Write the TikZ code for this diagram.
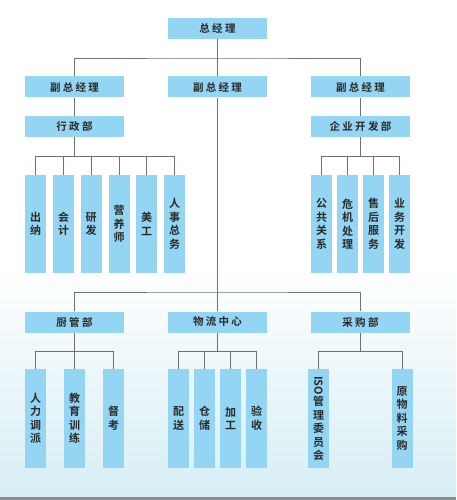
\documentclass[tikz,border=0pt]{standalone}
\usepackage{fontspec}
\newfontfamily\cjk{Noto Sans CJK SC}[BoldFont={Noto Sans CJK SC Bold},LetterSpace=22]
\newfontfamily\cjkv{Noto Sans CJK SC}[BoldFont={Noto Sans CJK SC Bold}]
\usepackage{tikz}
\usetikzlibrary{positioning}
\definecolor{boxblue}{HTML}{93D5F2}
\definecolor{linegray}{HTML}{707070}
\definecolor{textgray}{HTML}{2A2A2A}
\definecolor{bgblue}{HTML}{D8EEF5}

\begin{document}
\begin{tikzpicture}[
    x=1pt,y=-1pt,
    box/.style={fill=boxblue,minimum width=99pt,minimum height=21pt,inner sep=0pt,
      font=\cjk\bfseries\fontsize{10.5}{12}\selectfont,text=textgray},
    vbox/.style={fill=boxblue,minimum width=21pt,minimum height=98pt,inner sep=0pt,
      text width=13pt,align=center,font=\cjkv\bfseries\fontsize{11}{13.5}\selectfont,text=textgray},
    link/.style={draw=linegray,line width=0.9pt},
  ]
    \useasboundingbox (0,0) rectangle (456,500);
    % background, bluish towards the bottom, drawn in bands
    \fill[white] (0,0) rectangle (456,500);
    \foreach \i in {0,...,23}{
      \pgfmathsetmacro\mix{\i*100/23}
      \fill[bgblue!\mix!white] (0,260+\i*10) rectangle (456,271+\i*10);
    }
    \fill[black!45] (0,497) rectangle (456,500);

    \node[box] (gm) at (217.5,28.5) {总经理};
    \node[box] (vp1) at (74.5,87) {副总经理};
    \node[box] (vp2) at (217.5,87) {副总经理};
    \node[box] (vp3) at (360.5,87) {副总经理};
    \node[box] (admin) at (74.5,126.5) {行政部};
    \node[box] (biz) at (360.5,126.5) {企业开发部};

    \node[vbox] (cashier) at (35.5,224) {出\\纳};
    \node[vbox] (account) at (63.5,224) {会\\计};
    \node[vbox] (rd) at (91,224) {研\\发};
    \node[vbox] (diet) at (119,224) {营\\养\\师};
    \node[vbox] (art) at (146.5,224) {美\\工};
    \node[vbox] (hr) at (174.5,224) {人\\事\\总\\务};

    \node[vbox] (pr) at (321.5,224) {公\\共\\关\\系};
    \node[vbox] (crisis) at (347.5,224) {危\\机\\处\\理};
    \node[vbox] (service) at (373.5,224) {售\\后\\服\\务};
    \node[vbox] (sales) at (399.5,224) {业\\务\\开\\发};

    \node[box] (kitchen) at (74.5,322) {厨管部};
    \node[box] (logi) at (217.5,322) {物流中心};
    \node[box] (purch) at (360.5,322) {采购部};

    \node[vbox,minimum height=99pt] (staff) at (35.5,418.5) {人\\力\\调\\派};
    \node[vbox,minimum height=99pt] (train) at (74.5,418.5) {教\\育\\训\\练};
    \node[vbox,minimum height=99pt] (check) at (113.5,418.5) {督\\考};
    \node[vbox,minimum height=99pt] (deliver) at (178.5,418.5) {配\\送};
    \node[vbox,minimum height=99pt] (store) at (204.5,418.5) {仓\\储};
    \node[vbox,minimum height=99pt] (process) at (230.5,418.5) {加\\工};
    \node[vbox,minimum height=99pt] (inspect) at (256.5,418.5) {验\\收};
    \node[vbox,minimum height=99pt] (iso) at (318.5,418.5) {\rotatebox{-90}{ISO}\\管\\理\\委\\员\\会};
    \node[vbox,minimum height=99pt] (raw) at (402,418.5) {原\\物\\料\\采\\购};

    % branch points
    \coordinate (topbar) at (217.5,58);
    \coordinate (midbar) at (217.5,292);
    \coordinate (adminbar) at (74.5,156);
    \coordinate (bizbar) at (360.5,156);
    \coordinate (kitchenbar) at (74.5,351);
    \coordinate (logibar) at (217.5,351);
    \coordinate (purchbar) at (360.5,351);

    \draw[link] (gm.south) -- (vp2.north);
    \draw[link] (vp1.north) |- (topbar) -| (vp3.north);
    \draw[link] (vp1.south) -- (admin.north);
    \draw[link] (vp3.south) -- (biz.north);
    \draw[link] (vp2.south) -- (midbar);
    \draw[link] (kitchen.north) |- (midbar) -| (purch.north);
    \draw[link] (midbar) -- (logi.north);

    \draw[link] (admin.south) -- (adminbar);
    \draw[link] (adminbar) -| (cashier.north) (adminbar) -| (account.north)
      (adminbar) -| (rd.north) (adminbar) -| (diet.north)
      (adminbar) -| (art.north) (adminbar) -| (hr.north);
    \draw[link] (biz.south) -- (bizbar);
    \draw[link] (bizbar) -| (pr.north) (bizbar) -| (crisis.north)
      (bizbar) -| (service.north) (bizbar) -| (sales.north);

    \draw[link] (kitchen.south) -- (kitchenbar);
    \draw[link] (kitchenbar) -| (staff.north) (kitchenbar) -| (train.north)
      (kitchenbar) -| (check.north);
    \draw[link] (logi.south) -- (logibar);
    \draw[link] (logibar) -| (deliver.north) (logibar) -| (store.north)
      (logibar) -| (process.north) (logibar) -| (inspect.north);
    \draw[link] (purch.south) -- (purchbar);
    \draw[link] (purchbar) -| (iso.north) (purchbar) -| (raw.north);
  \end{tikzpicture}
\end{document}
